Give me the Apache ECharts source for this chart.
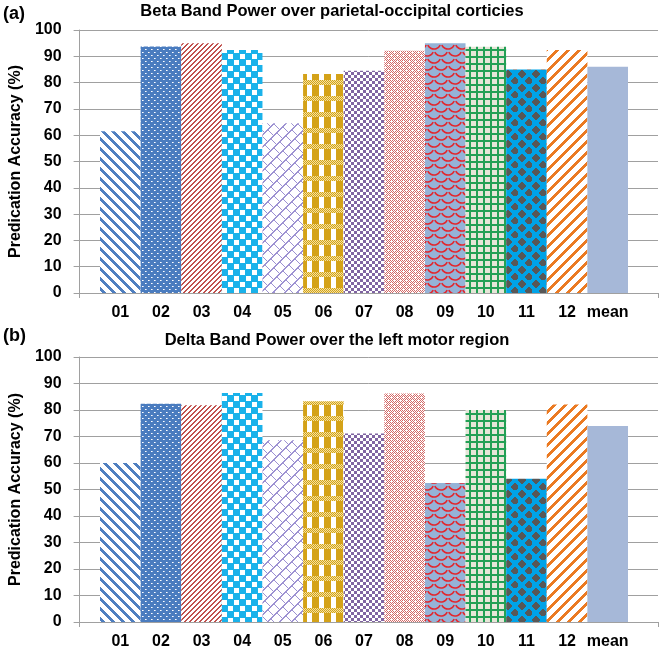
<!DOCTYPE html>
<html>
<head>
<meta charset="utf-8">
<script src="https://cdn.jsdelivr.net/npm/echarts@6/dist/echarts.min.js"></script>
<style>html,body{margin:0;padding:0;background:#fff;}#c{width:663px;height:651px;}</style>
</head>
<body>
<div id="c"></div>
<script>
const categories = ['01','02','03','04','05','06','07','08','09','10','11','12','mean'];
const betaValues = [61.5, 93.7, 95.0, 92.4, 64.5, 83.3, 84.5, 92.1, 95.0, 93.6, 85.0, 92.4, 86.0];
const deltaValues = [60.0, 82.4, 81.8, 86.4, 68.6, 83.3, 71.1, 86.2, 52.5, 80.0, 54.1, 82.1, 74.0];
const topTitle = 'Beta Band Power over parietal-occipital corticies';
const bottomTitle = 'Delta Band Power over the left motor region';
const yName = 'Predication Accuracy (%)';

const FONT = '"Liberation Sans", Arial, Helvetica, sans-serif';

function hexRgb(c){ return [parseInt(c.slice(1,3),16),parseInt(c.slice(3,5),16),parseInt(c.slice(5,7),16)]; }
function pixTile(w,h,fn){
  const cv=document.createElement('canvas'); cv.width=w; cv.height=h;
  const ctx=cv.getContext('2d'); const img=ctx.createImageData(w,h);
  for(let y=0;y<h;y++)for(let x=0;x<w;x++){
    const c=hexRgb(fn(x,y)); const i=(y*w+x)*4;
    img.data[i]=c[0];img.data[i+1]=c[1];img.data[i+2]=c[2];img.data[i+3]=255;
  }
  ctx.putImageData(img,0,0); return cv;
}
const W='#ffffff';
function mod(a,n){return ((a%n)+n)%n;}

const patterns = [
  // 01 wide blue "\" stripes
  pixTile(10,10,(x,y)=> mod(x-y,10)<4 ? '#4f7fc0' : W),
  // 02 blue with white dots
  pixTile(6,6,(x,y)=> ((x===1&&y===1)||(x===4&&y===4)) ? '#ffffff' : (((x===2&&y===1)||(x===5&&y===4))?'#b7cbe8':'#4a7cbf')),
  // 03 thin red "/" stripes
  pixTile(5,5,(x,y)=> mod(x+y,5)<2 ? '#c0504d' : W),
  // 04 cyan checker
  pixTile(12,12,(x,y)=> ((x<6)!==(y<6)) ? (((x%6)<5&&(y%6)<5)?W:'#1ab2ea') : '#1ab2ea'),
  // 05 light purple diagonal brick
  pixTile(24,24,(x,y)=>{
    const u=x+y, v=mod(x-y,12);
    if(mod(u,12)<2) return '#9d92d2';
    const row=Math.floor(mod(u,24)/12);
    if((row===0 && v===0) || (row===1 && v===6)) return '#9d92d2';
    return W;
  }),
  // 06 gold plaid
  pixTile(12,16,(x,y)=>{
    if(y<5) return ((x+y)%2===0)?'#d4a218':'#f4e2a0';
    return x<7?'#d4a218':W;
  }),
  // 07 purple small checker
  pixTile(6,6,(x,y)=> ((x<3)!==(y<3)) ? '#8064a2' : W),
  // 08 light red small pattern
  pixTile(6,6,(x,y)=>{
    if((x%3===1)&&(y%3===1)) return W;
    return ((x+y)%2===0)?'#d46a68':W;
  }),
  null, // 09 drawn below
  // 10 green grid on beige
  pixTile(7,7,(x,y)=> (x<2||y<2) ? '#23a055' : '#e6e6d8'),
  // 11 blue with grey diamonds
  pixTile(14,14,(x,y)=>{
    const d1=Math.abs(x-3.5)+Math.abs(y-3.5);
    const d2=Math.abs(x-10.5)+Math.abs(y-10.5);
    return (d1<=4.6||d2<=4.6)?'#585858':'#00a3e8';
  }),
  // 12 orange "/" stripes
  pixTile(11,11,(x,y)=> mod(x+y,11)<4 ? '#eb7a22' : W),
  null // mean solid
];
// 09 scale pattern
(function(){
  const cv=document.createElement('canvas'); cv.width=14; cv.height=14;
  const ctx=cv.getContext('2d');
  ctx.fillStyle='#95b3d7'; ctx.fillRect(0,0,14,14);
  ctx.strokeStyle='#e3262d'; ctx.lineWidth=1.6;
  const centers=[[0,0],[14,0],[0,14],[14,14],[7,7],[7,-7],[-7,7],[21,7],[7,21]];
  centers.forEach(c=>{ctx.beginPath();ctx.arc(c[0],c[1],7,0.15*Math.PI,0.85*Math.PI);ctx.stroke();});
  patterns[8]=cv;
})();

function colorFor(i){
  if(i===12) return '#a6b8d8';
  return {image: patterns[i], repeat:'repeat'};
}
function barData(vals){
  return vals.map((v,i)=>({value:v, itemStyle:{color:colorFor(i)}}));
}

const GRID_GREY='#a0a0a0';
const panels=[{top:30,height:263,vals:betaValues},{top:357,height:265,vals:deltaValues}];
const grid=[], xAxis=[], yAxis=[], series=[];
panels.forEach((p,k)=>{
  grid.push({left:70,width:588,top:p.top,height:p.height});
  grid.push({left:100,width:528,top:p.top,height:p.height});
  const fi=k*2, bi=k*2+1;
  xAxis.push({gridIndex:fi,type:'value',min:0,max:1,interval:1,
    axisLine:{show:true,lineStyle:{color:GRID_GREY,width:1}},
    axisTick:{show:true,length:5,lineStyle:{color:GRID_GREY}},
    axisLabel:{show:false},splitLine:{show:false}});
  xAxis.push({gridIndex:bi,type:'category',data:categories,boundaryGap:true,
    axisLine:{show:false},axisTick:{show:false},
    axisLabel:{show:true,color:'#000',fontWeight:'bold',fontSize:16,fontFamily:FONT,margin:12,interval:0}});
  yAxis.push({gridIndex:fi,type:'value',min:0,max:100,interval:10,
    name:yName,nameLocation:'middle',nameGap:47,
    nameTextStyle:{color:'#000',fontWeight:'bold',fontSize:16,fontFamily:FONT},
    axisLine:{show:true,lineStyle:{color:GRID_GREY,width:1}},
    axisTick:{show:true,length:6,lineStyle:{color:GRID_GREY}},
    axisLabel:{color:'#000',fontWeight:'bold',fontSize:16,fontFamily:FONT,margin:18},
    splitLine:{show:true,lineStyle:{color:GRID_GREY,width:1}}});
  yAxis.push({gridIndex:bi,type:'value',min:0,max:100,show:false});
  series.push({type:'bar',xAxisIndex:bi,yAxisIndex:bi,barCategoryGap:'0%',barGap:'0%',
    data:barData(p.vals),silent:true,animation:false});
});

const chart=echarts.init(document.getElementById('c'),null,{renderer:'canvas'});
chart.setOption({
  animation:false,
  grid, xAxis, yAxis, series,
  graphic:[
    {type:'text',left:3,top:5,style:{text:'(a)',font:'bold 18px '+FONT,fill:'#000'}},
    {type:'text',left:3,top:327,style:{text:'(b)',font:'bold 18px '+FONT,fill:'#000'}},
    {type:'text',x:332,y:11,style:{text:topTitle,font:'bold 16.5px '+FONT,fill:'#000',align:'center',verticalAlign:'middle'}},
    {type:'text',x:337,y:340,style:{text:bottomTitle,font:'bold 16.5px '+FONT,fill:'#000',align:'center',verticalAlign:'middle'}}
  ]
});
</script>
</body>
</html>
